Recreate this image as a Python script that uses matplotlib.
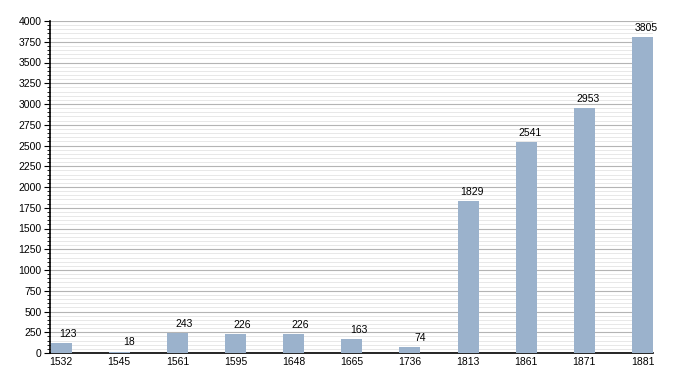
import numpy as np
import matplotlib.pyplot as plt
from matplotlib.ticker import MultipleLocator

# Population by census year
years = ["1532", "1545", "1561", "1595", "1648", "1665", "1736", "1813", "1861", "1871", "1881"]
population = [123, 18, 243, 226, 226, 163, 74, 1829, 2541, 2953, 3805]

plt.rcParams["font.family"] = ["Liberation Sans", "DejaVu Sans"]

fig = plt.figure(figsize=(6.83, 3.73), dpi=100)
ax = fig.add_axes([50 / 683, 20 / 373, 603 / 683, 332 / 373])

x = np.arange(len(years))
ax.bar(x, population, width=0.36, color="#9bb2cc", zorder=3)

# value labels sit right-aligned a little to the right of each bar centre
for xi, val in zip(x, population):
    ax.annotate(str(val), (xi, val), xytext=(11.3, 3), textcoords="offset points",
                ha="right", va="bottom", fontsize=7.5, zorder=4)

ax.set_xlim(-0.19, 10.18)
ax.set_ylim(0, 4000)
ax.set_xticks(x)
ax.set_xticklabels(years, fontsize=7.5)
ax.tick_params(axis="x", length=0, pad=3)

ax.yaxis.set_major_locator(MultipleLocator(250))
ax.yaxis.set_minor_locator(MultipleLocator(50))
ax.tick_params(axis="y", which="major", length=4, labelsize=7.5, pad=2)
ax.tick_params(axis="y", which="minor", length=2)
ax.grid(axis="y", which="major", color="#b4b4b4", linewidth=0.8, zorder=0)
ax.grid(axis="y", which="minor", color="#e8e8e8", linewidth=0.7, zorder=0)

for s in ["top", "right"]:
    ax.spines[s].set_visible(False)
ax.spines["left"].set_linewidth(1.2)
ax.spines["bottom"].set_linewidth(1.2)

fig.savefig("out.png", dpi=100)
